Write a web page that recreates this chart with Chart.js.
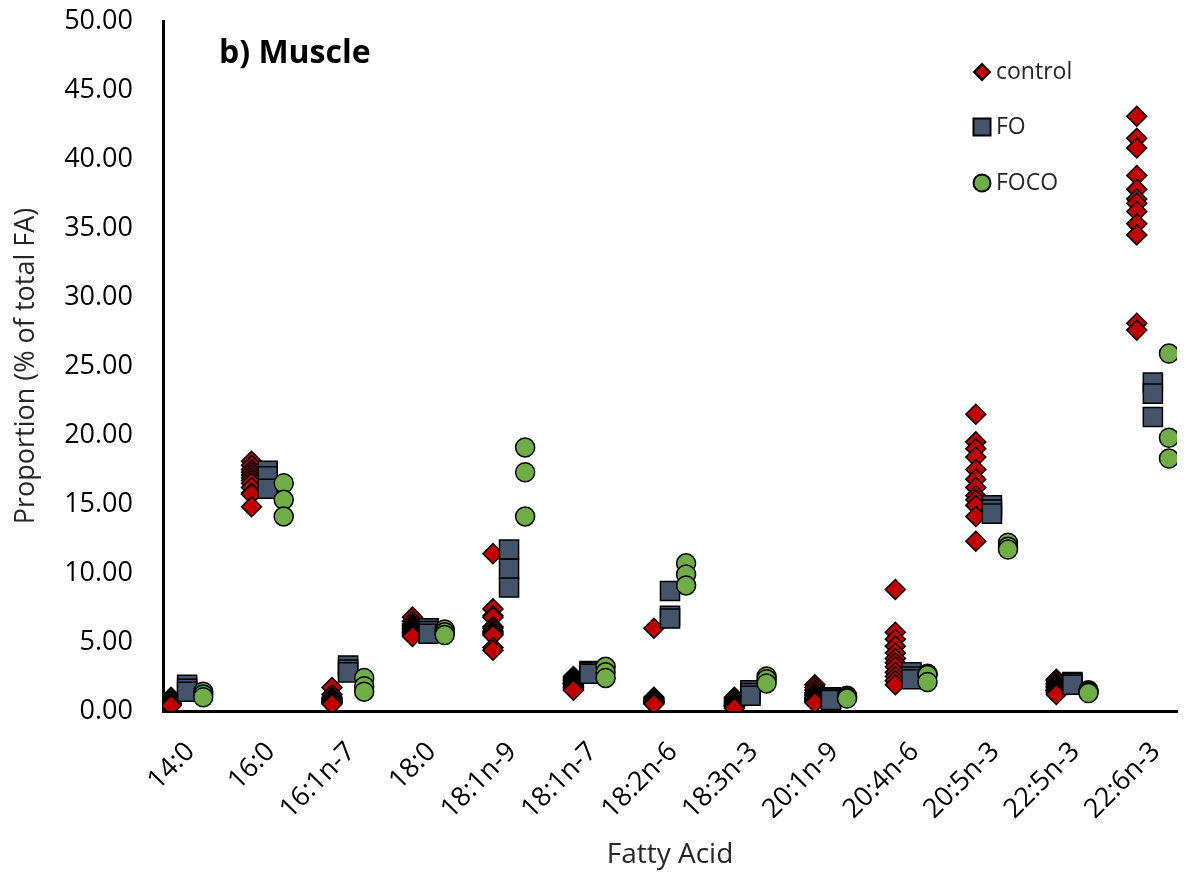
<!DOCTYPE html>
<html>
<head>
<meta charset="utf-8">
<script src="https://cdn.jsdelivr.net/npm/chart.js@4.4.1/dist/chart.umd.min.js"></script>
<style>
  body { margin: 0; background: #fff; }
  #wrap { width: 1192px; height: 878px; }
</style>
</head>
<body>
<div id="wrap"><canvas id="muscleChart" width="1192" height="878"></canvas></div>
<script>
// =========================================================================
// DATOS (% del total de ácidos grasos)
// =========================================================================
const categories = ['14:0', '16:0', '16:1n-7', '18:0', '18:1n-9', '18:1n-7', '18:2n-6',
    '18:3n-3', '20:1n-9', '20:4n-6', '20:5n-3', '22:5n-3', '22:6n-3'];

const controlValues = [
    [1.0, 0.9, 0.8, 0.7, 0.6, 0.55, 0.5, 0.5, 0.45, 0.45, 0.4, 0.4],
    [18.1, 17.8, 17.5, 17.3, 17.1, 16.9, 16.7, 16.5, 16.2, 15.8, 15.7, 14.8],
    [1.7, 1.2, 1.0, 0.9, 0.8, 0.8, 0.7, 0.7, 0.6, 0.6, 0.6, 0.5],
    [6.8, 6.5, 6.3, 6.2, 6.1, 6.0, 5.9, 5.8, 5.7, 5.6, 5.5, 5.4],
    [11.4, 7.4, 6.9, 6.8, 6.1, 6.0, 5.8, 5.7, 5.6, 5.5, 4.6, 4.4],
    [2.5, 2.4, 2.3, 2.2, 2.1, 2.0, 2.0, 1.9, 1.8, 1.7, 1.6, 1.5],
    [6.0, 1.0, 0.9, 0.8, 0.8, 0.7, 0.7, 0.7, 0.6, 0.6, 0.6, 0.5],
    [1.0, 0.9, 0.8, 0.7, 0.6, 0.5, 0.5, 0.4, 0.4, 0.3, 0.3, 0.2],
    [1.9, 1.7, 1.5, 1.3, 1.2, 1.1, 1.0, 0.9, 0.8, 0.8, 0.7, 0.6],
    [8.8, 5.7, 5.2, 4.7, 4.2, 3.8, 3.5, 3.2, 2.8, 2.5, 2.2, 1.9],
    [21.5, 19.5, 19.0, 18.4, 17.5, 16.8, 16.2, 15.6, 15.3, 14.9, 14.1, 12.3],
    [2.3, 2.2, 2.0, 1.9, 1.8, 1.7, 1.6, 1.5, 1.5, 1.4, 1.3, 1.2],
    [43.1, 41.5, 40.8, 38.8, 37.8, 37.1, 36.8, 36.2, 35.3, 34.5, 28.1, 27.6]
];

const foValues = [
    [1.9, 1.6, 1.4],
    [17.4, 17.0, 16.1],
    [3.3, 3.0, 2.8],
    [6.0, 5.8, 5.6],
    [11.7, 10.3, 8.95],
    [2.9, 2.8, 2.7],
    [8.7, 6.9, 6.7],
    [1.5, 1.3, 1.1],
    [1.0, 0.9, 0.8],
    [2.8, 2.5, 2.3],
    [14.9, 14.6, 14.3],
    [2.1, 2.0, 1.9],
    [23.8, 23.0, 21.3]
];

const focoValues = [
    [1.4, 1.2, 1.0],
    [16.5, 15.3, 14.1],
    [2.4, 1.8, 1.4],
    [5.9, 5.7, 5.5],
    [19.1, 17.3, 14.1],
    [3.2, 2.8, 2.4],
    [10.7, 9.9, 9.1],
    [2.5, 2.3, 2.0],
    [1.1, 1.0, 0.9],
    [2.7, 2.6, 2.1],
    [12.2, 11.9, 11.7],
    [1.5, 1.4, 1.3],
    [25.9, 19.8, 18.3]
];

const yTicks = [0, 5, 10, 15, 20, 25, 30, 35, 40, 45, 50];

// desplazamiento horizontal de cada grupo dentro de la categoría
const offsetControl = 0;
const offsetFO = 0.2;
const offsetFOCO = 0.4;
const offsetLabel = 0.24;

const FONT = "'Open Sans', sans-serif";

// Convierte [categoria][muestra] en puntos {x, y}
function toPoints(values, offset) {
    const pts = [];
    values.forEach((grupo, i) => {
        grupo.forEach(v => pts.push({ x: i + 1 + offset, y: v }));
    });
    return pts;
}

// =========================================================================
// PLUGINS: título interno y leyenda
// =========================================================================
const panelTitle = {
    id: 'panelTitle',
    afterDraw(chart) {
        const ctx = chart.ctx;
        ctx.save();
        ctx.font = "bold 32px " + FONT;
        ctx.fillStyle = '#000';
        ctx.textBaseline = 'alphabetic';
        ctx.fillText('b) Muscle', 219, 63);
        ctx.restore();
    }
};

function drawMarker(ctx, style, x, y, r, fill) {
    ctx.beginPath();
    if (style === 'rectRot') {
        ctx.moveTo(x, y - r); ctx.lineTo(x + r, y); ctx.lineTo(x, y + r); ctx.lineTo(x - r, y);
        ctx.closePath();
    } else if (style === 'rect') {
        ctx.rect(x - r, y - r, 2 * r, 2 * r);
    } else {
        ctx.arc(x, y, r, 0, Math.PI * 2);
    }
    ctx.fillStyle = fill;
    ctx.fill();
    ctx.lineWidth = 2;
    ctx.strokeStyle = '#000';
    ctx.stroke();
}

const insideLegend = {
    id: 'insideLegend',
    afterDraw(chart) {
        const ctx = chart.ctx;
        const items = [
            { style: 'rectRot', r: 8, y: 72 },
            { style: 'rect', r: 8.5, y: 127 },
            { style: 'circle', r: 8.5, y: 183 }
        ];
        ctx.save();
        ctx.font = "23px " + FONT;
        ctx.textBaseline = 'middle';
        items.forEach((it, i) => {
            const ds = chart.data.datasets[i];
            drawMarker(ctx, it.style, 982, it.y, it.r, ds.backgroundColor);
            ctx.fillStyle = '#262626';
            ctx.fillText(ds.label, 996, it.y);
        });
        ctx.restore();
    }
};

// =========================================================================
// GRÁFICO
// =========================================================================
const ctx = document.getElementById('muscleChart').getContext('2d');

new Chart(ctx, {
    type: 'scatter',
    data: {
        datasets: [
            {
                label: 'control',
                data: toPoints(controlValues, offsetControl),
                pointStyle: 'rectRot',
                pointRadius: 10,
                backgroundColor: '#C00000',
                borderColor: '#000',
                borderWidth: 1.5,
                order: 3
            },
            {
                label: 'FO',
                data: toPoints(foValues, offsetFO),
                pointStyle: 'rect',
                pointRadius: 13.5,
                backgroundColor: '#44546A',
                borderColor: '#000',
                borderWidth: 1.5,
                order: 2
            },
            {
                label: 'FOCO',
                data: toPoints(focoValues, offsetFOCO),
                pointStyle: 'circle',
                pointRadius: 9.5,
                backgroundColor: '#70AD47',
                borderColor: '#000',
                borderWidth: 1.5,
                order: 1
            }
        ]
    },
    options: {
        responsive: false,
        animation: false,
        layout: { padding: { top: 21, right: 7, left: 0, bottom: 0 } },
        plugins: {
            legend: { display: false },
            tooltip: { enabled: false }
        },
        scales: {
            x: {
                type: 'linear',
                min: 0.9,
                max: 13.5,
                grid: { display: false, drawTicks: false },
                border: { display: true, color: '#000', width: 3 },
                afterBuildTicks: (axis) => {
                    axis.ticks = categories.map((c, i) => ({ value: i + 1 + offsetLabel }));
                },
                afterFit: (axis) => {
                    axis.height = 167;
                    axis.paddingLeft = 0;
                    axis.paddingRight = 0;
                },
                ticks: {
                    autoSkip: false,
                    minRotation: 45,
                    maxRotation: 45,
                    padding: 25,
                    color: '#000',
                    font: { family: FONT, size: 27 },
                    callback: (v, idx) => categories[idx]
                },
                title: {
                    display: true,
                    text: 'Fatty Acid',
                    color: '#262626',
                    font: { family: FONT, size: 28 },
                    padding: { top: 0, bottom: 6 }
                }
            },
            y: {
                min: 0,
                max: 50,
                grid: { display: false, drawTicks: false },
                border: { display: true, color: '#000', width: 3 },
                afterBuildTicks: (axis) => {
                    axis.ticks = yTicks.map(v => ({ value: v }));
                },
                afterFit: (axis) => {
                    axis.width = 163;
                    axis.paddingTop = 0;
                    axis.paddingBottom = 0;
                },
                ticks: {
                    padding: 30,
                    color: '#000',
                    font: { family: FONT, size: 27 },
                    callback: (v) => Number(v).toFixed(2)
                },
                title: {
                    display: true,
                    text: 'Proportion (% of total FA)',
                    color: '#262626',
                    font: { family: FONT, size: 27 },
                    padding: { top: 10, bottom: 0 }
                }
            }
        }
    },
    plugins: [panelTitle, insideLegend]
});
</script>
</body>
</html>
